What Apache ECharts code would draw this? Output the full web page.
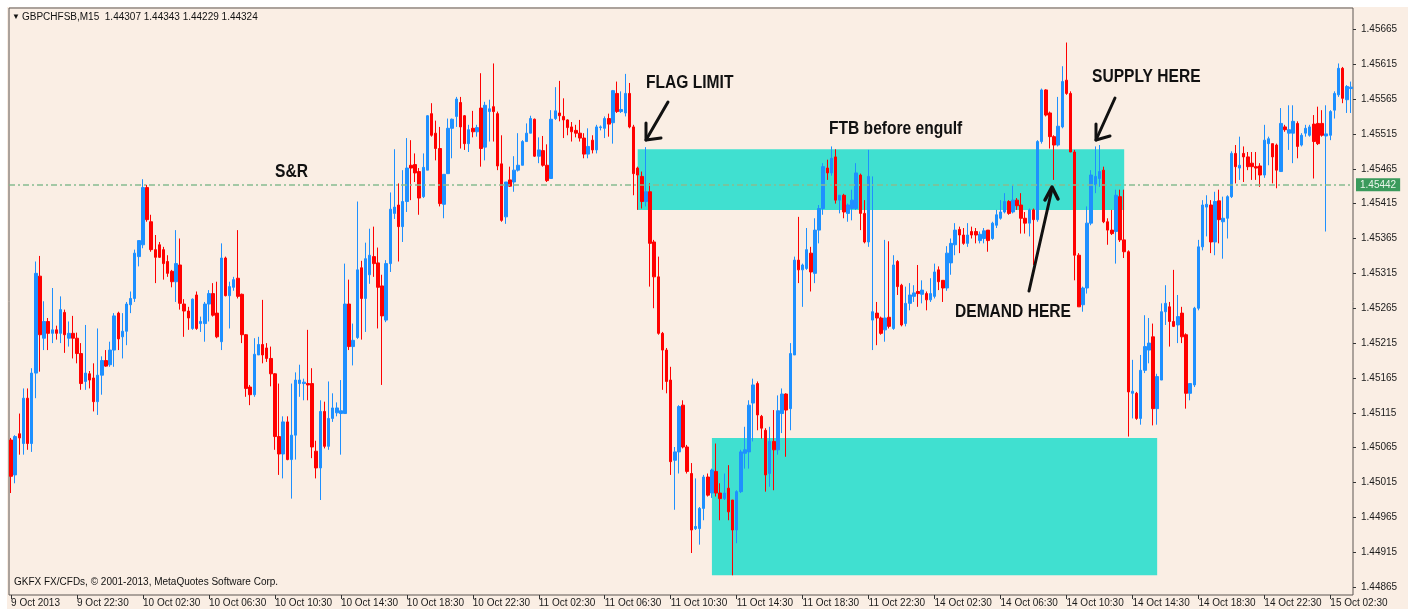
<!DOCTYPE html>
<html lang="en">
<head>
    <meta charset="UTF-8">
    <title>GBPCHFSB,M15</title>
    <script src="https://cdn.jsdelivr.net/npm/echarts@6/dist/echarts.min.js"></script>
    <style>
        html, body { margin: 0; padding: 0; background: #fff; }
        #main { width: 1408px; height: 609px; }
    </style>
</head>
<body>
<div id="main"></div>

<script type="text/javascript">
    // M15 bars, 9 Oct 18:30 .. 15 Oct 03:45
    var opens = [
        1.45076,1.45026,1.45085,1.45071,1.45136,1.45071,1.45172,1.45311,1.45222,1.45246,
        1.45229,1.45234,1.45229,1.45259,1.45222,1.45229,1.45222,1.45200,1.45160,1.45171,
        1.45165,1.45131,1.45169,1.45190,1.45184,1.45205,1.45258,1.45224,1.45232,1.45270,
        1.45279,1.45339,1.45356,1.45438,1.45389,1.45349,1.45356,1.45349,1.45332,1.45318,
        1.45303,1.45327,1.45271,1.45261,1.45236,1.45284,1.45243,1.45243,1.45271,1.45286,
        1.45258,1.45217,1.45337,1.45283,1.45295,1.45308,1.45285,1.45227,1.45152,1.45141,
        1.45198,1.45213,1.45208,1.45193,1.45171,1.45081,1.45056,1.45102,1.45048,1.45083,
        1.45157,1.45157,1.45157,1.45157,1.45060,1.45036,1.45117,1.45067,1.45107,1.45115,
        1.45114,1.45114,1.45271,1.45210,1.45223,1.45323,1.45279,1.45313,1.45339,1.45330,
        1.45297,1.45248,1.45329,1.45401,1.45413,1.45382,1.45418,1.45470,1.45471,1.45461,
        1.45425,1.45463,1.45544,1.45516,1.45494,1.45414,1.45458,1.45523,1.45540,1.45560,
        1.45541,1.45501,1.45523,1.45518,1.45552,1.45496,1.45547,1.45554,1.45544,1.45472,
        1.45396,1.45449,1.45446,1.45463,1.45470,1.45504,1.45516,1.45536,1.45483,1.45491,
        1.45470,1.45451,1.45537,1.45545,1.45540,1.45535,1.45525,1.45520,1.45516,1.45509,
        1.45486,1.45506,1.45492,1.45524,1.45523,1.45537,1.45531,1.45573,1.45547,1.45545,
        1.45573,1.45525,1.45466,1.45454,1.45418,1.45432,1.45360,1.45310,1.45229,1.45205,
        1.45162,1.45047,1.45059,1.45126,1.45066,1.45028,1.44949,1.44949,1.44978,1.45023,
        1.45000,1.45031,1.45000,1.44992,1.45007,1.44990,1.44947,1.45002,1.45057,1.45059,
        1.45129,1.45157,1.45110,1.45090,1.45028,1.45074,1.45062,1.45114,1.45142,1.45121,
        1.45198,1.45334,1.45320,1.45322,1.45344,1.45315,1.45377,1.45408,1.45466,1.45459,
        1.45482,1.45420,1.45427,1.45401,1.45408,1.45408,1.45456,1.45401,1.45360,1.45248,
        1.45258,1.45251,1.45234,1.45252,1.45236,1.45332,1.45298,1.45243,1.45272,1.45282,
        1.45289,1.45285,1.45286,1.45277,1.45282,1.45320,1.45305,1.45294,1.45330,1.45356,
        1.45378,1.45370,1.45358,1.45375,1.45375,1.45362,1.45365,1.45377,1.45365,1.45384,
        1.45394,1.45403,1.45418,1.45403,1.45420,1.45413,1.45394,1.45387,1.45406,1.45392,
        1.45504,1.45578,1.45545,1.45511,1.45499,1.45525,1.45592,1.45573,1.45489,1.45341,
        1.45270,1.45294,1.45387,1.45442,1.45451,1.45463,1.45389,1.45377,1.45375,1.45425,
        1.45363,1.45346,1.45143,1.45143,1.45107,1.45176,1.45205,1.45224,1.45121,1.45162,
        1.45260,1.45267,1.45246,1.45241,1.45258,1.45227,1.45143,1.45155,1.45265,1.45353,
        1.45410,1.45413,1.45360,1.45419,1.45389,1.45394,1.45425,1.45487,1.45466,1.45487,
        1.45482,1.45473,1.45468,1.45469,1.45456,1.45501,1.45501,1.45499,1.45461,1.45525,
        1.45516,1.45516,1.45530,1.45499,1.45516,1.45513,1.45529,1.45530,1.45530,1.45512,
        1.45513,1.45549,1.45571,1.45609,1.45564,1.45580
    ];
    var closes = [
        1.45024,1.45081,1.45079,1.45136,1.45071,1.45172,1.45315,1.45227,1.45246,1.45229,
        1.45234,1.45229,1.45263,1.45227,1.45229,1.45222,1.45200,1.45157,1.45172,1.45162,
        1.45131,1.45169,1.45190,1.45182,1.45205,1.45254,1.45221,1.45232,1.45271,1.45279,
        1.45344,1.45362,1.45438,1.45392,1.45349,1.45338,1.45338,1.45329,1.45315,1.45303,
        1.45329,1.45272,1.45261,1.45251,1.45278,1.45236,1.45246,1.45271,1.45286,1.45255,
        1.45224,1.45337,1.45283,1.45296,1.45306,1.45282,1.45227,1.45150,1.45141,1.45199,
        1.45213,1.45198,1.45193,1.45171,1.45081,1.45056,1.45102,1.45048,1.45083,1.45162,
        1.45162,1.45159,1.45155,1.45066,1.45036,1.45117,1.45067,1.45107,1.45122,1.45122,
        1.45118,1.45271,1.45210,1.45219,1.45320,1.45279,1.45336,1.45341,1.45329,1.45295,
        1.45254,1.45329,1.45407,1.45410,1.45382,1.45418,1.45466,1.45466,1.45459,1.45423,
        1.45467,1.45541,1.45513,1.45494,1.45415,1.45457,1.45523,1.45536,1.45565,1.45525,
        1.45501,1.45521,1.45518,1.45524,1.45494,1.45556,1.45551,1.45547,1.45469,1.45391,
        1.45446,1.45440,1.45463,1.45470,1.45504,1.45516,1.45537,1.45483,1.45492,1.45470,
        1.45448,1.45536,1.45548,1.45541,1.45535,1.45524,1.45518,1.45516,1.45509,1.45486,
        1.45497,1.45492,1.45525,1.45525,1.45537,1.45529,1.45577,1.45547,1.45550,1.45573,
        1.45525,1.45458,1.45456,1.45418,1.45432,1.45358,1.45310,1.45229,1.45205,1.45160,
        1.45045,1.45059,1.45124,1.45066,1.45031,1.44947,1.44952,1.44978,1.45023,1.44997,
        1.45033,1.45000,1.44992,1.45000,1.44973,1.44947,1.45002,1.45059,1.45062,1.45126,
        1.45155,1.45112,1.45093,1.45026,1.45074,1.45062,1.45118,1.45142,1.45119,1.45200,
        1.45334,1.45320,1.45327,1.45349,1.45317,1.45377,1.45408,1.45468,1.45459,1.45480,
        1.45420,1.45427,1.45403,1.45413,1.45420,1.45459,1.45401,1.45360,1.45454,1.45260,
        1.45251,1.45229,1.45251,1.45239,1.45327,1.45296,1.45241,1.45272,1.45284,1.45287,
        1.45286,1.45291,1.45277,1.45286,1.45317,1.45303,1.45294,1.45344,1.45358,1.45377,
        1.45370,1.45358,1.45370,1.45370,1.45370,1.45371,1.45376,1.45362,1.45387,1.45399,
        1.45403,1.45418,1.45401,1.45420,1.45412,1.45394,1.45387,1.45406,1.45392,1.45504,
        1.45578,1.45542,1.45511,1.45499,1.45526,1.45590,1.45573,1.45489,1.45341,1.45267,
        1.45294,1.45387,1.45456,1.45454,1.45461,1.45389,1.45377,1.45372,1.45427,1.45363,
        1.45346,1.45145,1.45146,1.45107,1.45176,1.45210,1.45215,1.45121,1.45167,1.45260,
        1.45272,1.45246,1.45239,1.45253,1.45224,1.45143,1.45157,1.45265,1.45353,1.45413,
        1.45414,1.45360,1.45418,1.45392,1.45394,1.45425,1.45487,1.45468,1.45470,1.45482,
        1.45468,1.45468,1.45466,1.45456,1.45506,1.45508,1.45482,1.45463,1.45530,1.45521,
        1.45521,1.45533,1.45497,1.45513,1.45523,1.45525,1.45504,1.45501,1.45513,1.45515,
        1.45547,1.45573,1.45609,1.45566,1.45583,1.45582
    ];
    var lows = [
        1.45000,1.45014,1.45055,1.45055,1.45062,1.45059,1.45136,1.45174,1.45205,1.45205,
        1.45215,1.45220,1.45215,1.45201,1.45210,1.45193,1.45186,1.45148,1.45148,1.45150,
        1.45117,1.45112,1.45141,1.45181,1.45181,1.45181,1.45205,1.45193,1.45212,1.45258,
        1.45274,1.45325,1.45351,1.45389,1.45346,1.45301,1.45337,1.45306,1.45310,1.45295,
        1.45274,1.45263,1.45224,1.45234,1.45234,1.45234,1.45231,1.45217,1.45246,1.45253,
        1.45222,1.45205,1.45282,1.45236,1.45290,1.45279,1.45215,1.45138,1.45126,1.45138,
        1.45198,1.45186,1.45188,1.45153,1.45062,1.45026,1.45021,1.45047,1.44992,1.45048,
        1.45138,1.45133,1.45133,1.45050,1.45021,1.44990,1.45064,1.45062,1.45102,1.45110,
        1.45055,1.45114,1.45205,1.45183,1.45221,1.45220,1.45231,1.45300,1.45310,1.45236,
        1.45155,1.45245,1.45317,1.45393,1.45332,1.45360,1.45403,1.45420,1.45446,1.45399,
        1.45423,1.45463,1.45511,1.45477,1.45411,1.45394,1.45458,1.45480,1.45525,1.45494,
        1.45492,1.45489,1.45510,1.45511,1.45468,1.45477,1.45504,1.45504,1.45463,1.45389,
        1.45386,1.45439,1.45432,1.45461,1.45470,1.45504,1.45516,1.45482,1.45473,1.45468,
        1.45446,1.45451,1.45535,1.45533,1.45509,1.45513,1.45504,1.45510,1.45504,1.45480,
        1.45480,1.45487,1.45487,1.45520,1.45509,1.45511,1.45501,1.45545,1.45545,1.45540,
        1.45523,1.45427,1.45406,1.45408,1.45411,1.45296,1.45265,1.45227,1.45148,1.45143,
        1.45026,1.44976,1.45028,1.45064,1.45028,1.44914,1.44947,1.44926,1.44961,1.44995,
        1.44993,1.44995,1.44961,1.44990,1.44961,1.44882,1.44928,1.45000,1.45035,1.45035,
        1.45074,1.45090,1.45078,1.45002,1.45009,1.45004,1.45055,1.45086,1.45052,1.45090,
        1.45198,1.45301,1.45267,1.45320,1.45289,1.45301,1.45358,1.45399,1.45449,1.45455,
        1.45415,1.45401,1.45394,1.45389,1.45391,1.45406,1.45377,1.45358,1.45353,1.45205,
        1.45212,1.45227,1.45217,1.45236,1.45234,1.45284,1.45239,1.45239,1.45262,1.45274,
        1.45267,1.45272,1.45262,1.45274,1.45279,1.45291,1.45274,1.45290,1.45313,1.45341,
        1.45344,1.45356,1.45353,1.45365,1.45358,1.45358,1.45358,1.45346,1.45363,1.45380,
        1.45392,1.45401,1.45399,1.45401,1.45406,1.45372,1.45372,1.45368,1.45327,1.45389,
        1.45501,1.45540,1.45494,1.45449,1.45497,1.45523,1.45571,1.45489,1.45305,1.45267,
        1.45260,1.45286,1.45384,1.45430,1.45439,1.45387,1.45356,1.45370,1.45329,1.45360,
        1.45337,1.45081,1.45107,1.45105,1.45098,1.45172,1.45186,1.45097,1.45098,1.45162,
        1.45241,1.45210,1.45238,1.45215,1.45215,1.45121,1.45133,1.45152,1.45262,1.45348,
        1.45368,1.45344,1.45341,1.45358,1.45336,1.45365,1.45423,1.45444,1.45449,1.45446,
        1.45463,1.45449,1.45449,1.45439,1.45452,1.45470,1.45444,1.45437,1.45461,1.45518,
        1.45492,1.45473,1.45480,1.45497,1.45511,1.45511,1.45451,1.45499,1.45511,1.45375,
        1.45506,1.45537,1.45568,1.45559,1.45545,1.45545
    ];
    var highs = [
        1.45079,1.45083,1.45114,1.45150,1.45150,1.45179,1.45332,1.45340,1.45275,1.45251,
        1.45294,1.45240,1.45282,1.45263,1.45246,1.45254,1.45230,1.45215,1.45241,1.45175,
        1.45186,1.45236,1.45196,1.45205,1.45217,1.45258,1.45260,1.45258,1.45274,1.45289,
        1.45349,1.45362,1.45450,1.45442,1.45399,1.45370,1.45360,1.45353,1.45341,1.45320,
        1.45377,1.45365,1.45278,1.45267,1.45279,1.45289,1.45253,1.45274,1.45291,1.45301,
        1.45303,1.45358,1.45339,1.45303,1.45310,1.45377,1.45286,1.45228,1.45155,1.45222,
        1.45224,1.45277,1.45215,1.45210,1.45172,1.45157,1.45110,1.45110,1.45157,1.45173,
        1.45184,1.45164,1.45234,1.45179,1.45075,1.45133,1.45131,1.45160,1.45143,1.45130,
        1.45162,1.45329,1.45306,1.45243,1.45418,1.45333,1.45359,1.45379,1.45382,1.45352,
        1.45313,1.45334,1.45431,1.45493,1.45444,1.45463,1.45509,1.45506,1.45487,1.45466,
        1.45487,1.45542,1.45559,1.45534,1.45525,1.45457,1.45537,1.45537,1.45568,1.45568,
        1.45542,1.45528,1.45548,1.45528,1.45602,1.45561,1.45564,1.45616,1.45547,1.45513,
        1.45446,1.45468,1.45483,1.45516,1.45506,1.45530,1.45541,1.45537,1.45510,1.45512,
        1.45500,1.45549,1.45582,1.45591,1.45566,1.45536,1.45532,1.45528,1.45535,1.45516,
        1.45523,1.45513,1.45528,1.45527,1.45540,1.45544,1.45578,1.45590,1.45576,1.45601,
        1.45588,1.45528,1.45468,1.45461,1.45496,1.45444,1.45363,1.45339,1.45231,1.45208,
        1.45181,1.45066,1.45126,1.45133,1.45069,1.45043,1.45021,1.44980,1.45026,1.45028,
        1.45035,1.45071,1.45014,1.45028,1.45040,1.44990,1.45004,1.45062,1.45095,1.45133,
        1.45164,1.45160,1.45112,1.45093,1.45095,1.45119,1.45140,1.45150,1.45143,1.45215,
        1.45339,1.45396,1.45329,1.45380,1.45353,1.45394,1.45413,1.45473,1.45478,1.45497,
        1.45493,1.45427,1.45429,1.45415,1.45435,1.45473,1.45458,1.45420,1.45492,1.45454,
        1.45274,1.45253,1.45363,1.45361,1.45341,1.45334,1.45300,1.45296,1.45301,1.45298,
        1.45327,1.45305,1.45289,1.45308,1.45329,1.45325,1.45305,1.45354,1.45365,1.45387,
        1.45382,1.45380,1.45387,1.45382,1.45380,1.45375,1.45380,1.45377,1.45389,1.45406,
        1.45420,1.45430,1.45420,1.45442,1.45423,1.45430,1.45403,1.45408,1.45408,1.45506,
        1.45580,1.45579,1.45547,1.45513,1.45568,1.45612,1.45646,1.45576,1.45492,1.45344,
        1.45296,1.45411,1.45463,1.45497,1.45499,1.45468,1.45394,1.45406,1.45435,1.45435,
        1.45435,1.45348,1.45191,1.45145,1.45198,1.45255,1.45251,1.45243,1.45171,1.45272,
        1.45298,1.45274,1.45320,1.45284,1.45267,1.45229,1.45157,1.45267,1.45363,1.45420,
        1.45427,1.45420,1.45432,1.45435,1.45425,1.45427,1.45490,1.45499,1.45511,1.45497,
        1.45489,1.45489,1.45489,1.45473,1.45528,1.45511,1.45501,1.45501,1.45552,1.45528,
        1.45556,1.45556,1.45533,1.45516,1.45528,1.45528,1.45542,1.45554,1.45549,1.45556,
        1.45549,1.45576,1.45616,1.45611,1.45585,1.45590
    ];

    // price scale labels on the right
    var yTicks = [1.44865,1.44915,1.44965,1.45015,1.45065,1.45115,1.45165,1.45215,1.45265,
                  1.45315,1.45365,1.45415,1.45465,1.45515,1.45565,1.45615,1.45665];

    // horizontal S&R level and the two zones (bar index from/to, price top/bottom)
    var srLevel = 1.45442;
    var zoneFrom = [152, 170];
    var zoneTo = [270, 278];
    var zoneTop = [1.45493, 1.45079];
    var zoneBottom = [1.45406, 1.44882];

    // time labels, 15 min steps, weekend skipped
    function pad(n) { return n < 10 ? '0' + n : '' + n; }
    var times = [];
    var day = 9, hh = 18, mm = 30;
    for (var i = 0; i < opens.length; i++) {
        times.push(i === 0 ? '9 Oct 2013' : day + ' Oct ' + pad(hh) + ':' + pad(mm));
        mm += 15;
        if (mm === 60) { mm = 0; hh++; }
        if (hh === 24) { hh = 0; day++; if (day === 12) day = 14; }
    }

    var bars = [];
    for (var k = 0; k < opens.length; k++) {
        bars.push([opens[k], closes[k], lows[k], highs[k]]);
    }

    var zones = [];
    for (var z = 0; z < zoneFrom.length; z++) {
        zones.push([{ xAxis: zoneFrom[z], yAxis: zoneTop[z] }, { xAxis: zoneTo[z], yAxis: zoneBottom[z] }]);
    }

    var smallFont = 'Liberation Sans, Arial, sans-serif';
    var noteFont = 'bold 19px Liberation Sans, Arial, sans-serif';

    function note(text, x, y) {
        return { type: 'text', x: x, y: y, scaleX: 0.82, z: 100,
            style: { text: text, font: noteFont, fill: '#111', verticalAlign: 'middle' } };
    }
    function stroke(points, w) {
        return { type: 'polyline', z: 100, shape: { points: points },
            style: { stroke: '#111', lineWidth: w || 3, fill: null, lineCap: 'round', lineJoin: 'round' } };
    }

    var myChart = echarts.init(document.getElementById('main'));

    var option = {
        animation: false,
        backgroundColor: '#FAEEE4',
        grid: {
            left: 9, right: 55, top: 8, bottom: 14,
            show: true, backgroundColor: '#FAEEE4', borderColor: '#5c5752', borderWidth: 1
        },
        xAxis: {
            type: 'category',
            data: times,
            boundaryGap: true,
            axisLine: { show: false },
            axisTick: { show: true, interval: 15, alignWithLabel: true, length: 4, lineStyle: { color: '#333' } },
            axisLabel: { interval: 15, align: 'left', margin: 3, fontSize: 10, color: '#1a1a1a', fontFamily: smallFont },
            splitLine: { show: false }
        },
        yAxis: {
            type: 'value',
            position: 'right',
            min: 1.448538,
            max: 1.456955,
            axisLine: { show: false },
            splitLine: { show: false },
            axisTick: { show: true, customValues: yTicks, length: 3, lineStyle: { color: '#333' } },
            axisLabel: {
                customValues: yTicks, margin: 8, fontSize: 10, color: '#1a1a1a', fontFamily: smallFont,
                formatter: function (v) { return v.toFixed(5); }
            }
        },
        series: [
            {
                name: 'zones',
                type: 'line',
                data: [],
                silent: true,
                markArea: {
                    silent: true,
                    label: { show: false },
                    itemStyle: { color: '#40E0D0', opacity: 1 },
                    data: zones
                },
                markLine: {
                    silent: true,
                    precision: 5,
                    symbol: 'none',
                    lineStyle: { color: '#86bc90', width: 1.5, type: [6, 3, 2, 3] },
                    label: {
                        show: true, position: 'end', distance: 3,
                        formatter: function () { return srLevel.toFixed(5); },
                        backgroundColor: '#3a9a5c', color: '#e9f6ea', padding: [2, 4, 1, 4],
                        fontSize: 10, fontFamily: smallFont
                    },
                    data: [{ yAxis: srLevel }]
                }
            },
            {
                name: 'GBPCHFSB',
                type: 'candlestick',
                data: bars,
                barWidth: 3,
                itemStyle: {
                    color: '#1E90FF', color0: '#FF0000',
                    borderColor: '#1E90FF', borderColor0: '#FF0000', borderWidth: 1
                }
            }
        ],
        graphic: [
            { type: 'rect', z: 50, shape: { x: 0, y: 0, width: 1408, height: 7 }, style: { fill: '#fff' } },
            { type: 'rect', z: 50, shape: { x: 0, y: 0, width: 7, height: 609 }, style: { fill: '#fff' } },
            { type: 'text', x: 12, y: 17, z: 100, style: { text: '\u25BC', font: '8px ' + smallFont, fill: '#111', verticalAlign: 'middle' } },
            { type: 'text', x: 22, y: 17, z: 100, style: { text: 'GBPCHFSB,M15  1.44307 1.44343 1.44229 1.44324', font: '10px ' + smallFont, fill: '#111', verticalAlign: 'middle' } },
            { type: 'text', x: 14, y: 582, z: 100, style: { text: 'GKFX FX/CFDs, \u00A9 2001-2013, MetaQuotes Software Corp.', font: '10px ' + smallFont, fill: '#111', verticalAlign: 'middle' } },

            note('FLAG LIMIT', 646, 83),
            note('S&R', 275, 172),
            note('FTB before engulf', 829, 129),
            note('SUPPLY HERE', 1092, 77),
            note('DEMAND HERE', 955, 312),

            stroke([[668, 102], [646, 140]]),
            stroke([[646, 123], [646, 140], [661, 138]]),
            stroke([[1115, 98], [1096, 140]]),
            stroke([[1096, 124], [1096, 140], [1110, 136]]),
            stroke([[1029, 291], [1052, 189]]),
            stroke([[1045, 200], [1052, 187], [1058, 199]], 3.5)
        ]
    };

    myChart.setOption(option);
</script>
</body>
</html>
